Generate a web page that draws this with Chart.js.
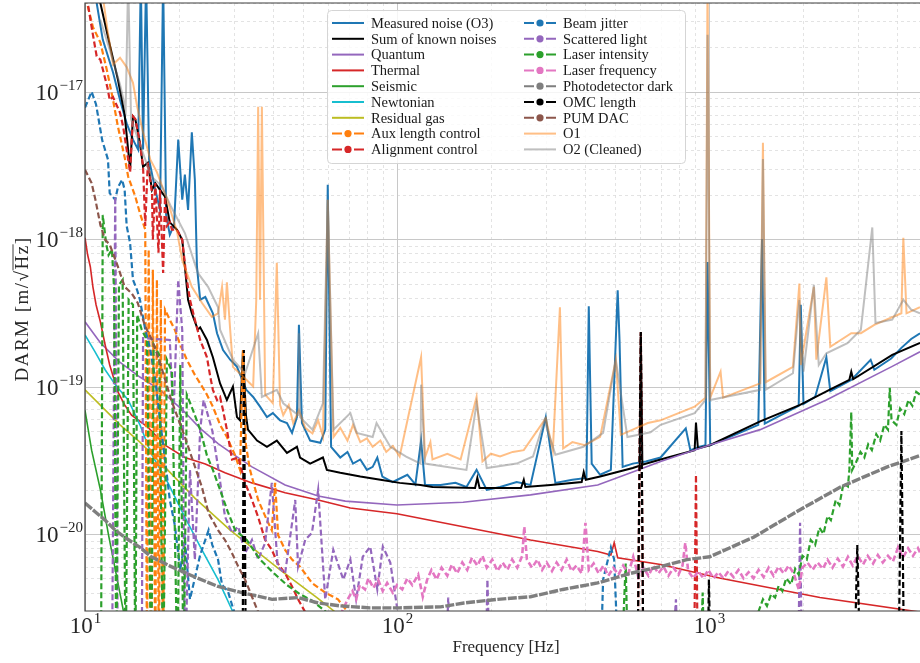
<!DOCTYPE html>
<html>
<head>
<meta charset="utf-8">
<script src="https://cdn.jsdelivr.net/npm/chart.js@4/dist/chart.umd.min.js"></script>
<style>
  html, body { margin: 0; padding: 0; background: #fff; }
  #wrap { width: 920px; height: 663px; }
</style>
</head>
<body>
<div id="wrap"><canvas id="darm-chart" width="920" height="663"></canvas></div>
<script>
// axis ranges and tick positions
var xRange = [10, 4750];
var yRange = [3.0e-21, 4.0e-17];
var xDecades = [10, 100, 1000];
var yDecades = [1e-21, 1e-20, 1e-19, 1e-18, 1e-17];
var minorSteps = [2, 3, 4, 5, 6, 7, 8, 9];
var xMajor = [10, 100, 1000];
var yMajor = [1e-20, 1e-19, 1e-18, 1e-17];
var BELOW = 1e-21;

// [frequency Hz, ASD m/rtHz]
var measuredO3 = [[10,6.9e-17],[10.9,4.0e-17],[11.4,2.26e-17],[12.3,1.35e-17],[12.95,8.8e-18],[13.6,6.1e-18],[14.25,4.73e-18],[14.8,4.05e-18],[15.1,6e-17],[15.35,4.05e-18],[15.7,6e-17],[16.05,3.46e-18],[16.8,2.16e-18],[17.4,1.58e-18],[17.8,6e-17],[18.2,1.46e-18],[18.7,1.07e-18],[19.3,1.25e-18],[19.9,4.73e-18],[20.5,1.85e-18],[20.9,2.74e-18],[21.4,1.58e-18],[22.0,5.3e-18],[22.5,2.53e-18],[22.85,6.5e-19],[23.4,3.88e-19],[24.3,4.05e-19],[25.7,3.14e-19],[26.5,2.3e-19],[27.7,1.77e-19],[29.2,1.52e-19],[30.7,1.36e-19],[32.9,9.5e-20],[34.6,8.5e-20],[36.4,7.3e-20],[38.3,6.2e-20],[40.0,6.6e-20],[42.2,5.9e-20],[44.4,5.65e-20],[46.1,4.85e-20],[47.8,6.2e-20],[48.5,2.62e-19],[49.6,5.65e-20],[52.7,4.3e-20],[56.8,4.15e-20],[58.9,5.1e-20],[60.0,2.34e-18],[61.5,3.9e-20],[65.8,3.3e-20],[69.4,3.6e-20],[72.3,3.0e-20],[76.3,3.2e-20],[80.1,2.72e-20],[83.6,2.85e-20],[86.5,3.3e-20],[89.8,2.45e-20],[97.0,2.25e-20],[108,2.52e-20],[114.6,2.17e-20],[119.5,4.3e-20],[123,2.15e-20],[138,2.15e-20],[154,2.22e-20],[167,2.08e-20],[180,2.72e-20],[194,1.99e-20],[214,2.08e-20],[242,2.25e-20],[268,2.15e-20],[300,6.2e-20],[322,2.22e-20],[365,2.33e-20],[405,2.4e-20],[412,3.5e-19],[421,3.0e-20],[448,2.52e-20],[485,2.72e-20],[510,4.5e-19],[517,2.07e-19],[529,2.85e-20],[570,3.0e-20],[628,3.1e-20],[700,3.3e-20],[843,5.2e-20],[872,3.7e-20],[936,3.9e-20],[975,4.0e-20],[990,7.0e-19],[1010,4.0e-20],[1170,4.55e-20],[1440,5.5e-20],[1480,1.0e-18],[1510,5.6e-20],[1700,6.4e-20],[1940,7.4e-20],[1970,3.59e-19],[2010,7.6e-20],[2190,8.5e-20],[2380,1.58e-19],[2450,9.3e-20],[2860,1.11e-19],[3300,1.52e-19],[3390,1.3e-19],[3840,1.55e-19],[4140,1.83e-19],[4450,2.1e-19],[4750,2.3e-19]];

var sumKnown = [[10,6.9e-17],[11.2,4.0e-17],[12.0,2.09e-17],[12.75,1.21e-17],[13.4,7.0e-18],[13.95,2.96e-18],[14.25,6.8e-18],[14.5,6.5e-18],[15.0,4.5e-18],[15.35,3.1e-18],[15.9,3.3e-18],[16.4,2.16e-18],[16.8,2.4e-18],[17.4,2.16e-18],[18.05,1.94e-18],[18.7,1.3e-18],[19.7,1.16e-18],[20.5,9.9e-19],[20.9,6.5e-19],[21.4,3.88e-19],[22.0,3.14e-19],[23.0,2.43e-19],[23.4,2.52e-19],[24.6,2.07e-19],[25.7,1.58e-19],[27.1,1.05e-19],[28.5,8.1e-20],[29.8,1.0e-19],[30.7,6.2e-20],[31.4,5.9e-20],[32.1,1.77e-19],[32.8,6.4e-20],[33.3,5.1e-20],[35.6,4.3e-20],[38.3,3.9e-20],[41.2,4.3e-20],[44.4,3.55e-20],[47.8,3.9e-20],[48.9,3.3e-20],[52.7,3.0e-20],[57.9,3.3e-20],[59.6,2.72e-20],[65.8,2.6e-20],[76.3,2.45e-20],[88.5,2.33e-20],[102,2.22e-20],[119,2.15e-20],[130,2.08e-20],[178,2.05e-20],[181,2.4e-20],[184,2.05e-20],[214,2.05e-20],[250,2.05e-20],[255,2.33e-20],[258,2.08e-20],[311,2.15e-20],[391,2.25e-20],[397,2.63e-20],[403,2.33e-20],[448,2.45e-20],[570,2.8e-20],[600,2.9e-20],[605,2.3e-19],[612,2.95e-20],[700,3.2e-20],[900,3.7e-20],[909,5.7e-20],[922,3.8e-20],[1007,4.0e-20],[1460,5.8e-20],[1960,7.5e-20],[2460,9.6e-20],[2820,1.11e-19],[2860,1.26e-19],[2900,1.12e-19],[3870,1.64e-19],[4750,1.98e-19]];

var quantum = [[10,2.75e-19],[11.2,1.98e-19],[12.9,1.47e-19],[15.0,1.16e-19],[17.4,9.5e-20],[20.6,6.9e-20],[23.4,5.2e-20],[26.7,4.1e-20],[30.3,3.4e-20],[34.3,2.85e-20],[43.8,2.15e-20],[55.9,1.81e-20],[68.3,1.67e-20],[100,1.57e-20],[163,1.64e-20],[268,1.84e-20],[440,2.15e-20],[570,2.63e-20],[700,3.1e-20],[1000,4.0e-20],[1460,5.1e-20],[2380,8.1e-20],[3870,1.37e-19],[4750,1.72e-19]];

var thermal = [[10,1.02e-18],[10.2,7.8e-19],[10.4,6.5e-19],[10.6,4.75e-19],[10.85,3.59e-19],[11.2,2.75e-19],[11.6,1.92e-19],[12.0,1.4e-19],[12.75,9.2e-20],[13.4,7.5e-20],[14.1,6.4e-20],[15.9,5.3e-20],[18.05,4.0e-20],[20.9,3.3e-20],[24.3,2.98e-20],[28.1,2.6e-20],[34.3,2.22e-20],[43.8,1.9e-20],[55.9,1.7e-20],[70.9,1.5e-20],[100,1.37e-20],[163,1.12e-20],[268,9.1e-21],[440,7.6e-21],[485,7.2e-21],[497,8.7e-21],[510,6.9e-21],[700,6.2e-21],[1090,5.0e-21],[2270,3.7e-21],[4750,2.95e-21]];

var seismic = [[10,6.9e-20],[10.5,3.7e-20],[11.2,2.0e-20],[11.9,9.8e-21],[12.6,5.3e-21],[13.3,2.95e-21],[13.6,2.4e-21]];

var newtonian = [[10,2.24e-19],[10.77,1.72e-19],[11.6,1.3e-19],[12.5,1.03e-19],[13.75,8.1e-20],[15.0,5.5e-20],[16.3,3.5e-20],[18.45,2.22e-20],[20.9,1.3e-20],[23.7,7.8e-21],[26.7,4.9e-21],[29.6,3.05e-21],[30.5,2.6e-21]];

var residualGas = [[10,9.5e-20],[12.95,5.5e-20],[15.0,4.2e-20],[18.4,2.72e-20],[22.5,1.75e-20],[29.2,1.06e-20],[42.2,5.7e-21],[55.4,3.7e-21],[63.4,2.95e-21]];

var auxLength = [[10,5.8e-17],[10.15,4.0e-17],[10.6,2.75e-17],[11.2,2.16e-17],[11.8,1.35e-17],[12.3,8.8e-18],[12.75,5.8e-18],[13.4,3.6e-18],[13.75,2.66e-18],[14.5,1.94e-18],[15.0,1.5e-18],[15.6,1.16e-18],[15.8,BELOW],[16.0,8.5e-19],[16.3,BELOW],[16.5,6.2e-19],[16.8,BELOW],[17.0,5.3e-19],[17.25,BELOW],[17.5,3.88e-19],[17.8,BELOW],[18.05,3.32e-19],[18.7,2.84e-19],[19.4,2.43e-19],[20.2,1.92e-19],[21.2,1.52e-19],[22.5,1.2e-19],[23.4,1.05e-19],[24.6,8.8e-20],[25.7,7.3e-20],[27.1,5.5e-20],[28.5,4.55e-20],[30.3,3.4e-20],[31.4,2.72e-20],[32.1,1.77e-19],[32.8,4.0e-20],[33.8,2.72e-20],[35.9,1.7e-20],[38.3,1.24e-20],[39.7,1.06e-20],[40.7,2.22e-20],[41.6,9.8e-21],[43.8,7.8e-21],[46.1,6.7e-21],[48.9,6.0e-21],[53.4,4.65e-21],[58.9,4.0e-21],[64.7,3.6e-21],[70.9,2.8e-21],[76,BELOW],[4750,BELOW]];

var alignment = [[10,5.8e-17],[10.2,4.0e-17],[10.6,2.44e-17],[10.9,1.74e-17],[11.2,1.65e-17],[11.8,1.07e-17],[12.0,8.8e-18],[12.3,9.2e-18],[12.95,7.2e-18],[13.25,5.8e-18],[13.6,4.05e-18],[13.95,2.84e-18],[14.25,6.8e-18],[14.5,6.5e-18],[15.0,4.5e-18],[15.35,3.1e-18],[15.6,1.23e-18],[15.9,3.3e-18],[16.4,2.05e-18],[16.5,9.9e-19],[16.8,2.4e-18],[17.2,8.1e-19],[17.4,2.16e-18],[17.8,5.9e-19],[18.05,1.94e-18],[18.3,1.23e-18],[18.7,1.3e-18],[19.0,1.16e-18],[19.7,1.16e-18],[20.5,9.9e-19],[21.1,5.7e-19],[21.7,3.88e-19],[22.5,2.84e-19],[23.4,2.07e-19],[24.6,1.58e-19],[25.2,1.17e-19],[25.7,9.5e-20],[26.5,8.1e-20],[27.1,8.5e-20],[27.7,6.9e-20],[28.5,5.1e-20],[29.6,3.2e-20],[31.0,3.3e-20],[32.6,2.22e-20],[34.3,1.7e-20],[35.9,1.3e-20],[37.8,9.1e-21],[39.7,7.8e-21],[41.5,6.3e-21],[43.8,5.4e-21],[46.1,4.4e-21],[48.2,3.6e-21],[50.8,2.95e-21],[53,BELOW],[590,BELOW],[605,2.34e-19],[617,BELOW],[895,BELOW],[909,2.52e-20],[922,BELOW],[4750,BELOW]];

var beamJitter = [[10,7.8e-18],[10.5,1.0e-17],[10.85,8.2e-18],[11.35,4.7e-18],[11.85,3.46e-18],[12.0,2.05e-18],[12.5,1.85e-18],[12.75,2.25e-18],[13.15,2.53e-18],[13.4,2.16e-18],[13.6,1.23e-18],[13.95,9.4e-19],[14.25,5.3e-19],[14.7,4.5e-19],[15.0,3.88e-19],[15.6,2.43e-19],[16.2,1.77e-19],[16.8,1.11e-19],[17.4,5.9e-20],[18.05,3.2e-20],[18.7,1.7e-20],[19.4,1.15e-20],[20.2,5.7e-21],[20.9,9.1e-21],[21.7,3.6e-21],[23.4,7.2e-21],[24.9,1.06e-20],[25.6,8.4e-21],[26.7,6.7e-21],[27.5,4.5e-21],[28.7,4.1e-21],[30.3,2.8e-21],[31.4,BELOW],[448,BELOW],[458,4.9e-21],[485,8.1e-21],[497,6.7e-21],[515,BELOW],[4750,BELOW]];

var scatteredLight = [[10,BELOW],[12.2,BELOW],[12.5,1.95e-18],[12.75,BELOW],[15.2,BELOW],[15.35,2.13e-19],[18.7,2.07e-19],[19.2,6.0e-20],[19.9,5.3e-19],[20.5,2.4e-19],[20.9,BELOW],[21.7,2.72e-20],[22.5,6.7e-21],[23.4,5.1e-20],[24.0,8.1e-20],[25.6,5.0e-20],[26.7,2.85e-20],[28.1,1.31e-20],[29.6,1.02e-20],[31.0,1.12e-20],[32.6,7.4e-21],[34.3,9.1e-21],[35.9,6.7e-21],[37.8,8.7e-21],[39.7,2.22e-20],[41.5,6.0e-21],[43.8,5.4e-21],[47.2,1.7e-20],[48.2,6.0e-21],[50.8,9.1e-21],[53.4,1.02e-20],[55.9,1.99e-20],[58.9,3.6e-21],[62.5,7.8e-21],[67.3,4.9e-21],[70.9,6.7e-21],[74.0,3.6e-21],[77.7,7.0e-21],[82.1,8.2e-21],[86.5,4.2e-21],[90.1,8.2e-21],[95.2,6.4e-21],[100,3.2e-21],[106,BELOW],[143,BELOW],[146,3.7e-21],[150,BELOW],[192,BELOW],[195,4.9e-21],[199,BELOW],[755,BELOW],[784,3.6e-21],[800,BELOW],[1930,BELOW],[1960,1.19e-20],[1990,BELOW],[4750,BELOW]];

var laserIntensity = [[10,BELOW],[11.25,BELOW],[11.4,1.46e-18],[11.7,9.2e-19],[11.9,7.8e-19],[12.2,8.5e-19],[12.4,4.5e-19],[12.6,BELOW],[12.85,4.9e-19],[13.2,5.3e-19],[13.5,BELOW],[13.8,3.88e-19],[14.25,3.59e-19],[14.5,BELOW],[14.7,3.07e-19],[15.2,2.43e-19],[15.8,2.07e-19],[16.3,BELOW],[16.6,1.92e-19],[17.3,1.64e-19],[17.8,BELOW],[18.3,1.52e-19],[19.0,1.26e-19],[19.8,BELOW],[20.2,1.4e-19],[20.7,BELOW],[21.2,8.8e-20],[22.2,6.9e-20],[23.4,5.1e-20],[24.6,3.4e-20],[25.7,2.72e-20],[27.1,1.99e-20],[28.7,1.41e-20],[30.3,1.06e-20],[33.0,9.1e-21],[36.4,6.7e-21],[40.0,5.5e-21],[44.4,4.5e-21],[48.9,3.9e-21],[53.8,3.5e-21],[61.1,2.8e-21],[66,BELOW],[522,BELOW],[541,6.3e-21],[552,BELOW],[936,BELOW],[955,4.0e-21],[970,BELOW],[1400,2.8e-21],[1440,2.95e-21],[1490,3.6e-21],[1535,3.25e-21],[1583,3.9e-21],[1630,3.7e-21],[1673,4.45e-21],[1720,4.1e-21],[1770,5.0e-21],[1835,4.55e-21],[1890,5.8e-21],[1940,5.3e-21],[1995,7.1e-21],[2060,6.7e-21],[2120,9.1e-21],[2190,8.4e-21],[2260,1.1e-20],[2330,1.0e-20],[2400,1.32e-20],[2460,1.24e-20],[2550,1.7e-20],[2620,1.57e-20],[2700,2.2e-20],[2790,2.1e-20],[2820,2.72e-20],[2860,6.7e-20],[2880,2.72e-20],[2970,3.1e-20],[3060,3.6e-20],[3150,3.3e-20],[3240,4.05e-20],[3330,3.7e-20],[3440,4.75e-20],[3540,4.3e-20],[3650,5.5e-20],[3750,5.1e-20],[3800,9.8e-20],[3850,5.9e-20],[3990,5.5e-20],[4100,7.1e-20],[4230,6.5e-20],[4360,8.1e-20],[4490,7.4e-20],[4620,9.2e-20],[4750,8.8e-20]];

var laserFrequency = [[65.8,2.8e-21],[69.5,3.6e-21],[72,4.1e-21],[74,3.6e-21],[76,4.5e-21],[79,4.2e-21],[81,5.0e-21],[84,4.3e-21],[87,4.9e-21],[90,4.1e-21],[93,4.65e-21],[97,4.0e-21],[100,4.5e-21],[104,4.2e-21],[108,5.0e-21],[112,4.5e-21],[117,5.3e-21],[121,3.75e-21],[125,4.9e-21],[129,5.7e-21],[134,4.9e-21],[139,5.9e-21],[145,5.2e-21],[150,6.2e-21],[156,5.4e-21],[162,6.4e-21],[168,5.7e-21],[174,6.9e-21],[181,6.1e-21],[188,7.1e-21],[194,5.9e-21],[202,6.7e-21],[210,5.6e-21],[218,6.4e-21],[226,5.7e-21],[234,6.7e-21],[243,5.9e-21],[252,7.1e-21],[256,1.12e-20],[261,6.7e-21],[271,5.9e-21],[282,6.7e-21],[292,5.7e-21],[302,6.4e-21],[314,5.6e-21],[325,6.4e-21],[337,5.7e-21],[350,6.7e-21],[363,5.6e-21],[376,6.1e-21],[391,5.4e-21],[402,1.19e-20],[412,5.7e-21],[427,6.3e-21],[443,5.4e-21],[459,6.1e-21],[476,5.2e-21],[494,5.9e-21],[513,5.3e-21],[531,6.1e-21],[552,5.4e-21],[572,7.0e-21],[594,5.1e-21],[617,5.9e-21],[640,5.2e-21],[664,6.1e-21],[689,5.4e-21],[715,6.0e-21],[742,5.2e-21],[770,5.9e-21],[799,5.3e-21],[823,6.1e-21],[840,8.7e-21],[858,5.6e-21],[891,5.0e-21],[925,5.6e-21],[960,5.0e-21],[996,5.7e-21],[1034,5.0e-21],[1073,5.5e-21],[1113,5.0e-21],[1155,5.6e-21],[1199,5.1e-21],[1244,5.7e-21],[1291,5.0e-21],[1340,5.5e-21],[1390,5.0e-21],[1443,5.7e-21],[1497,5.1e-21],[1554,5.9e-21],[1612,5.2e-21],[1673,6.0e-21],[1737,5.4e-21],[1802,6.1e-21],[1870,5.4e-21],[1941,4.2e-21],[1995,5.9e-21],[2070,6.4e-21],[2150,5.7e-21],[2230,6.4e-21],[2320,5.8e-21],[2400,6.7e-21],[2490,5.9e-21],[2590,6.8e-21],[2690,6.0e-21],[2790,7.0e-21],[2890,6.1e-21],[3000,7.1e-21],[3120,6.2e-21],[3230,7.1e-21],[3360,6.3e-21],[3480,7.2e-21],[3610,6.4e-21],[3750,7.1e-21],[3890,6.5e-21],[4040,8.1e-21],[4190,6.9e-21],[4350,8.0e-21],[4510,7.1e-21],[4680,8.0e-21],[4750,7.5e-21]];

var photodetectorDark = [[10,1.62e-20],[10.8,1.41e-20],[11.6,1.24e-20],[12.5,1.06e-20],[13.4,9.5e-21],[15.0,8.1e-21],[16.3,7.0e-21],[18.9,6.0e-21],[22.5,5.1e-21],[26.7,4.4e-21],[31.8,4.0e-21],[39.8,3.6e-21],[48.2,3.7e-21],[55.9,3.4e-21],[65.8,3.25e-21],[82,3.15e-21],[102,3.15e-21],[138,3.2e-21],[164,3.4e-21],[210,3.6e-21],[268,3.75e-21],[340,4.2e-21],[440,4.65e-21],[560,5.4e-21],[700,6.0e-21],[850,6.7e-21],[1007,7.0e-21],[1390,9.5e-21],[1960,1.46e-20],[2640,2.08e-20],[3730,2.85e-20],[4750,3.4e-20]];

var omcLength = [[10,BELOW],[32.0,BELOW],[32.3,1.77e-19],[32.8,BELOW],[590,BELOW],[605,2.34e-19],[617,BELOW],[990,BELOW],[1000,4.9e-21],[1015,BELOW],[2920,BELOW],[2990,8.4e-21],[3060,BELOW],[4050,BELOW],[4140,5.0e-20],[4230,BELOW],[4750,BELOW]];

var pumDac = [[10,2.96e-18],[10.5,2.4e-18],[10.8,1.85e-18],[11.2,1.25e-18],[11.6,9.9e-19],[12.0,9.2e-19],[12.75,6.5e-19],[13.4,4.75e-19],[14.1,4.3e-19],[14.75,3.7e-19],[15.6,2.55e-19],[16.4,2.07e-19],[17.4,1.45e-19],[18.9,8.1e-20],[20.9,4.55e-20],[22.0,3.3e-20],[23.7,2.08e-20],[24.9,1.38e-20],[26.7,1.06e-20],[28.1,9.1e-21],[29.6,7.4e-21],[31.0,6.0e-21],[32.6,4.9e-21],[34.3,3.75e-21],[35.9,2.95e-21],[37,BELOW]];

var o1 = [[11.2,5.8e-17],[11.8,2.64e-17],[12.3,1.53e-17],[12.95,1.7e-17],[13.6,1.47e-17],[14.25,1.15e-17],[14.7,7.9e-18],[15.35,5.3e-18],[16.2,3.46e-18],[17.0,2.85e-18],[18.35,1.85e-18],[19.75,1.11e-18],[20.5,7.2e-19],[22.0,4.75e-19],[23.7,3.7e-19],[25.5,2.97e-19],[26.7,3.14e-19],[27.5,4.75e-19],[28.1,2.84e-19],[28.5,5.1e-19],[29.2,2.43e-19],[29.8,1.36e-19],[32.1,1.17e-19],[34.6,1.0e-19],[35.4,3.88e-19],[35.9,7.9e-18],[36.4,3.88e-19],[36.9,7.9e-18],[37.8,8.8e-20],[40.0,7.7e-20],[41.2,6.9e-19],[42.2,7.5e-20],[43.2,6.4e-20],[45.0,7.5e-20],[46.5,5.65e-20],[48.5,6.9e-20],[50.8,5.25e-20],[53.6,4.8e-20],[55.9,5.9e-20],[57.9,4.6e-20],[60,1.85e-18],[62.6,4.55e-20],[65.8,5.25e-20],[69.4,4.3e-20],[72.3,5.5e-20],[76.3,4.2e-20],[80.1,4.45e-20],[83.6,3.9e-20],[88.5,4.3e-20],[92.4,3.6e-20],[97.0,3.95e-20],[102,3.35e-20],[119.5,1.58e-19],[123,3.3e-20],[128,4.2e-20],[130,3.2e-20],[145,3.5e-20],[160,3.2e-20],[180,8.5e-20],[188,3.1e-20],[200,3.5e-20],[214,3.35e-20],[235,3.6e-20],[255,3.7e-20],[300,6.1e-20],[316,3.7e-20],[333,3.45e-19],[341,3.8e-20],[365,4.2e-20],[400,4.0e-20],[448,4.55e-20],[503,1.52e-19],[522,4.7e-20],[570,5.1e-20],[637,5.65e-20],[700,5.9e-20],[900,7.3e-20],[975,8.4e-20],[990,5.8e-17],[1010,8.4e-20],[1090,1.26e-19],[1110,8.4e-20],[1460,1.05e-19],[1490,4.5e-18],[1520,1.07e-19],[1860,1.36e-19],[1950,5.0e-19],[1970,1.4e-19],[2170,4.75e-19],[2210,1.52e-19],[2380,5.5e-19],[2450,1.86e-19],[2860,2.3e-19],[3070,2.3e-19],[3390,2.62e-19],[4140,3.14e-19],[4200,1.02e-18],[4300,3.14e-19],[4750,3.45e-19]];

var o2Cleaned = [[11.2,3.08e-17],[12.0,1.93e-17],[12.95,1.12e-17],[13.5,7.6e-18],[13.75,5.8e-17],[14.05,6.5e-18],[15.0,4.4e-18],[16.3,2.66e-18],[17.6,2.3e-18],[18.9,1.65e-18],[20.9,1.1e-18],[23.0,5.9e-19],[24.8,4.75e-19],[26.7,3.45e-19],[27.1,2.43e-19],[29.8,1.52e-19],[32.6,1.23e-19],[35.9,2.3e-19],[36.9,8.5e-20],[41.2,9.5e-20],[43.2,7.7e-20],[48.2,6.4e-20],[48.5,2.3e-19],[48.9,6.2e-20],[53.6,5.1e-20],[57.9,7.7e-20],[60,1.85e-18],[62.6,5.1e-20],[70.9,6.6e-20],[74.3,4.85e-20],[83.6,4.55e-20],[86,5.65e-20],[95.2,3.9e-20],[107,3.35e-20],[119,3.0e-20],[119.5,1.03e-19],[123,3.0e-20],[167,2.72e-20],[180,7.7e-20],[194,2.8e-20],[242,3.0e-20],[273,3.35e-20],[297,5.9e-20],[322,3.45e-20],[396,3.9e-20],[458,4.85e-20],[503,1.52e-19],[548,4.55e-20],[650,4.9e-20],[700,5.5e-20],[900,6.6e-20],[975,8.1e-20],[990,2.44e-17],[1010,8.1e-20],[1460,9.5e-20],[1490,3.5e-18],[1520,9.5e-20],[1860,1.23e-19],[1950,3.88e-19],[2010,1.26e-19],[2170,4.9e-19],[2250,1.4e-19],[2380,1.68e-19],[2780,1.97e-19],[3070,2.43e-19],[3340,1.2e-18],[3420,2.7e-19],[3870,2.84e-19],[4200,3.88e-19],[4450,3.32e-19],[4750,3.14e-19]];

function pts(arr) {
	return arr.map(function(p) { return { x: p[0], y: p[1] }; });
}

// label, data, colour, width, dashed
var series = [
	["Measured noise (O3)", measuredO3, "#1f77b4", 2, false],
	["Sum of known noises", sumKnown, "#000000", 2, false],
	["Quantum", quantum, "#9467bd", 1.6, false],
	["Thermal", thermal, "#d62728", 1.6, false],
	["Seismic", seismic, "#2ca02c", 1.6, false],
	["Newtonian", newtonian, "#17becf", 1.6, false],
	["Residual gas", residualGas, "#bcbd22", 1.6, false],
	["Aux length control", auxLength, "#ff7f0e", 2.2, true],
	["Alignment control", alignment, "#d62728", 2.2, true],
	["Beam jitter", beamJitter, "#1f77b4", 2.2, true],
	["Scattered light", scatteredLight, "#9467bd", 2.2, true],
	["Laser intensity", laserIntensity, "#2ca02c", 2.2, true],
	["Laser frequency", laserFrequency, "#e377c2", 2.6, true],
	["Photodetector dark", photodetectorDark, "#7f7f7f", 3.4, true],
	["OMC length", omcLength, "#000000", 2.2, true],
	["PUM DAC", pumDac, "#8c564b", 2.2, true],
	["O1", o1, "rgba(255,127,14,0.5)", 2, false],
	["O2 (Cleaned)", o2Cleaned, "rgba(127,127,127,0.5)", 2, false]
];

var datasets = series.map(function(s, i) {
	return {
		label: s[0],
		data: pts(s[1]),
		borderColor: s[2],
		backgroundColor: s[2],
		borderWidth: s[3],
		borderDash: s[4] ? (s[0] === "Photodetector dark" ? [9, 1.5] : [6, 3]) : [],
		legendDashed: s[4],
		pointRadius: 0,
		tension: 0,
		fill: false,
		clip: 0,
		order: series.length - i
	};
});

var SERIF = '"Liberation Serif", "DejaVu Serif", serif';

function drawPow(ctx, exp, x, baseline, align) {
	ctx.font = '23px ' + SERIF;
	var w10 = ctx.measureText("10").width;
	ctx.font = '15px ' + SERIF;
	var we = ctx.measureText(exp).width;
	var start = align === "center" ? x - (w10 + we) / 2 : x - (w10 + we);
	ctx.textAlign = "left";
	ctx.textBaseline = "alphabetic";
	ctx.font = '23px ' + SERIF;
	ctx.fillText("10", start, baseline);
	ctx.font = '15px ' + SERIF;
	ctx.fillText(exp, start + w10 + 1, baseline - 10);
}

function drawLegend(chart) {
	var ctx = chart.ctx;
	ctx.save();
	var bx = 327.5, by = 10.5, bw = 358, bh = 153, r = 4;
	ctx.beginPath();
	ctx.moveTo(bx + r, by);
	ctx.arcTo(bx + bw, by, bx + bw, by + bh, r);
	ctx.arcTo(bx + bw, by + bh, bx, by + bh, r);
	ctx.arcTo(bx, by + bh, bx, by, r);
	ctx.arcTo(bx, by, bx + bw, by, r);
	ctx.closePath();
	ctx.fillStyle = "rgba(255,255,255,0.82)";
	ctx.fill();
	ctx.strokeStyle = "#d5d5d5";
	ctx.lineWidth = 1;
	ctx.stroke();

	ctx.font = '14.5px ' + SERIF;
	ctx.textBaseline = "middle";
	ctx.textAlign = "left";
	chart.data.datasets.forEach(function(ds, i) {
		var col = i < 9 ? 0 : 1;
		var row = i % 9;
		var cy = 23 + row * 15.8;
		var x0 = col ? 524 : 332;
		var x1 = x0 + 32;
		var tx = col ? 563 : 371;
		ctx.strokeStyle = ds.borderColor;
		ctx.lineWidth = 2;
		ctx.setLineDash([]);
		if (ds.legendDashed) {
			ctx.beginPath();
			ctx.moveTo(x0, cy); ctx.lineTo(x0 + 10, cy);
			ctx.moveTo(x1 - 10, cy); ctx.lineTo(x1, cy);
			ctx.stroke();
			ctx.beginPath();
			ctx.arc(x0 + 16, cy, 3.6, 0, Math.PI * 2);
			ctx.fillStyle = ds.borderColor;
			ctx.fill();
		} else {
			ctx.beginPath();
			ctx.moveTo(x0, cy); ctx.lineTo(x1, cy);
			ctx.stroke();
		}
		ctx.fillStyle = "#1a1a1a";
		ctx.fillText(ds.label, tx, cy + 1);
	});
	ctx.restore();
}

var decor = {
	id: "decor",
	beforeDatasetsDraw: function(chart) {
		var ctx = chart.ctx, a = chart.chartArea, xs = chart.scales.x, ys = chart.scales.y;
		ctx.save();
		ctx.lineWidth = 0.8;
		ctx.strokeStyle = "#dcdcdc";
		ctx.setLineDash([3, 3]);
		ctx.beginPath();
		xDecades.forEach(function(d) {
			minorSteps.forEach(function(m) {
				var v = d * m;
				if (v <= xRange[1]) {
					var px = Math.round(xs.getPixelForValue(v)) + 0.5;
					ctx.moveTo(px, a.top); ctx.lineTo(px, a.bottom);
				}
			});
		});
		yDecades.forEach(function(d) {
			minorSteps.forEach(function(m) {
				var v = d * m;
				if (v >= yRange[0] && v <= yRange[1]) {
					var py = Math.round(ys.getPixelForValue(v)) + 0.5;
					ctx.moveTo(a.left, py); ctx.lineTo(a.right, py);
				}
			});
		});
		ctx.stroke();
		ctx.setLineDash([]);
		ctx.strokeStyle = "#c8c8c8";
		ctx.lineWidth = 1;
		ctx.beginPath();
		xMajor.forEach(function(v) {
			var px = Math.round(xs.getPixelForValue(v)) + 0.5;
			ctx.moveTo(px, a.top); ctx.lineTo(px, a.bottom);
		});
		yMajor.forEach(function(v) {
			var py = Math.round(ys.getPixelForValue(v)) + 0.5;
			ctx.moveTo(a.left, py); ctx.lineTo(a.right, py);
		});
		ctx.stroke();
		ctx.restore();
	},
	afterDraw: function(chart) {
		var ctx = chart.ctx, a = chart.chartArea, xs = chart.scales.x, ys = chart.scales.y;
		ctx.save();
		// spines
		ctx.strokeStyle = "#3c3c3c";
		ctx.lineWidth = 1.2;
		ctx.beginPath();
		ctx.moveTo(a.right, a.top); ctx.lineTo(a.left, a.top);
		ctx.lineTo(a.left, a.bottom); ctx.lineTo(a.right, a.bottom);
		ctx.stroke();

		ctx.fillStyle = "#262626";
		xMajor.forEach(function(v) {
			drawPow(ctx, String(Math.round(Math.log10(v))), xs.getPixelForValue(v), 633, "center");
		});
		yMajor.forEach(function(v) {
			drawPow(ctx, "\u2212" + String(-Math.round(Math.log10(v))), 82, ys.getPixelForValue(v) + 8, "right");
		});

		// axis titles
		ctx.font = '17px ' + SERIF;
		ctx.textAlign = "center";
		ctx.textBaseline = "alphabetic";
		ctx.fillText("Frequency [Hz]", 506, 652);

		ctx.translate(28, 309);
		ctx.rotate(-Math.PI / 2);
		ctx.font = '19px ' + SERIF;
		if ("letterSpacing" in ctx) { ctx.letterSpacing = "1.5px"; }
		var full = "DARM [m/\u221AHz]";
		var w = ctx.measureText(full).width;
		var left = -w / 2;
		ctx.textAlign = "left";
		ctx.fillText(full, left, 0);
		var pre = ctx.measureText("DARM [m/\u221A").width;
		var hz = ctx.measureText("Hz").width;
		ctx.strokeStyle = "#262626";
		ctx.lineWidth = 0.9;
		ctx.beginPath();
		ctx.moveTo(left + pre - 1, -15);
		ctx.lineTo(left + pre + hz, -15);
		ctx.stroke();
		ctx.restore();

		drawLegend(chart);
	}
};

function render() {
	try {
		new Chart(document.getElementById("darm-chart"), {
			type: "line",
			data: { datasets: datasets },
			options: {
				responsive: false,
				devicePixelRatio: 1,
				animation: false,
				events: [],
				layout: { padding: { top: 3, left: 0, right: 0, bottom: 0 } },
				plugins: { legend: { display: false }, tooltip: { enabled: false } },
				scales: {
					x: {
						type: "logarithmic", position: "bottom", min: xRange[0], max: xRange[1],
						grid: { display: false }, border: { display: false }, ticks: { display: false },
						afterFit: function(s) { s.height = 52; }
					},
					y: {
						type: "logarithmic", position: "left", min: yRange[0], max: yRange[1],
						grid: { display: false }, border: { display: false }, ticks: { display: false },
						afterFit: function(s) { s.width = 85; }
					}
				}
			},
			plugins: [decor]
		});
	} catch (e) {
		document.body.insertAdjacentHTML("beforeend", "<pre>" + e + "</pre>");
	}
}

render();
</script>
</body>
</html>
